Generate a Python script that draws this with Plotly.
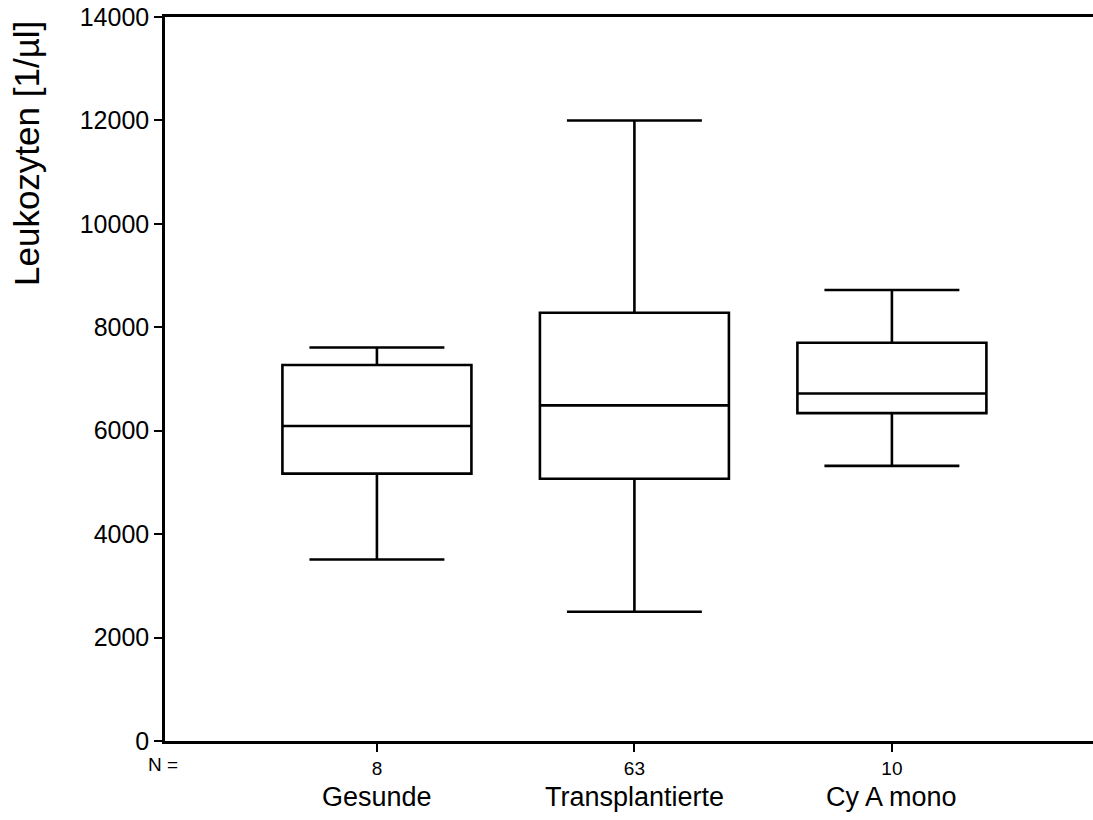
import plotly.graph_objects as go

categories = ["Gesunde", "Transplantierte", "Cy A mono"]
counts = [8, 63, 10]
q1_vals = [5170, 5070, 6340]
median_vals = [6090, 6490, 6720]
q3_vals = [7270, 8280, 7700]
lower_whisker = [3510, 2500, 5320]
upper_whisker = [7610, 12000, 8720]
y_ticks = [0, 2000, 4000, 6000, 8000, 10000, 12000, 14000]

FONT = "Liberation Sans, Arial, sans-serif"
positions = list(range(len(categories)))

fig = go.Figure()
for i, cat in enumerate(categories):
    fig.add_trace(go.Box(
        x=[positions[i]],
        q1=[q1_vals[i]], median=[median_vals[i]], q3=[q3_vals[i]],
        lowerfence=[lower_whisker[i]], upperfence=[upper_whisker[i]],
        name=cat,
        width=0.734,
        whiskerwidth=0.714,
        fillcolor="white",
        line=dict(color="black", width=2.6),
        boxpoints=False,
        hoverinfo="skip",
        showlegend=False,
    ))

for i, cat in enumerate(categories):
    fig.add_annotation(
        x=positions[i], y=-0.0773, xref="x", yref="paper",
        text=cat, showarrow=False, xanchor="center", yanchor="middle",
        font=dict(family=FONT, size=27, color="black"),
    )

fig.add_annotation(
    x=(163 - 165) / 928, y=(741 - 765) / 724, xref="paper", yref="paper",
    text="N =", showarrow=False, xanchor="center", yanchor="middle",
    font=dict(family=FONT, size=19, color="black"),
)

fig.add_annotation(
    x=(26 - 165) / 928, y=(741 - 154) / 724, xref="paper", yref="paper",
    text="Leukozyten [1/µl]", textangle=-90, showarrow=False,
    xanchor="center", yanchor="middle",
    font=dict(family=FONT, size=35, color="black"),
)

fig.update_layout(
    width=1093, height=820,
    margin=dict(l=165, r=0, t=17, b=79),
    paper_bgcolor="white", plot_bgcolor="white",
    font=dict(family=FONT, color="black"),
    showlegend=False,
)

fig.update_xaxes(
    range=[-0.823, 2.781],
    tickmode="array", tickvals=positions, ticktext=[str(c) for c in counts],
    ticks="outside", ticklen=8, tickwidth=2, tickcolor="black",
    tickfont=dict(family=FONT, size=19, color="black"),
    showline=True, linecolor="black", linewidth=2.5, mirror=True,
    showgrid=False, zeroline=False,
)
fig.update_yaxes(
    range=[0, 14000],
    tickmode="array", tickvals=y_ticks, ticktext=[str(v) for v in y_ticks],
    ticks="outside", ticklen=8, tickwidth=2, tickcolor="black",
    tickfont=dict(family=FONT, size=25, color="black"),
    showline=True, linecolor="black", linewidth=2.5,
    showgrid=False, zeroline=False,
)

fig.write_html("out.html")
